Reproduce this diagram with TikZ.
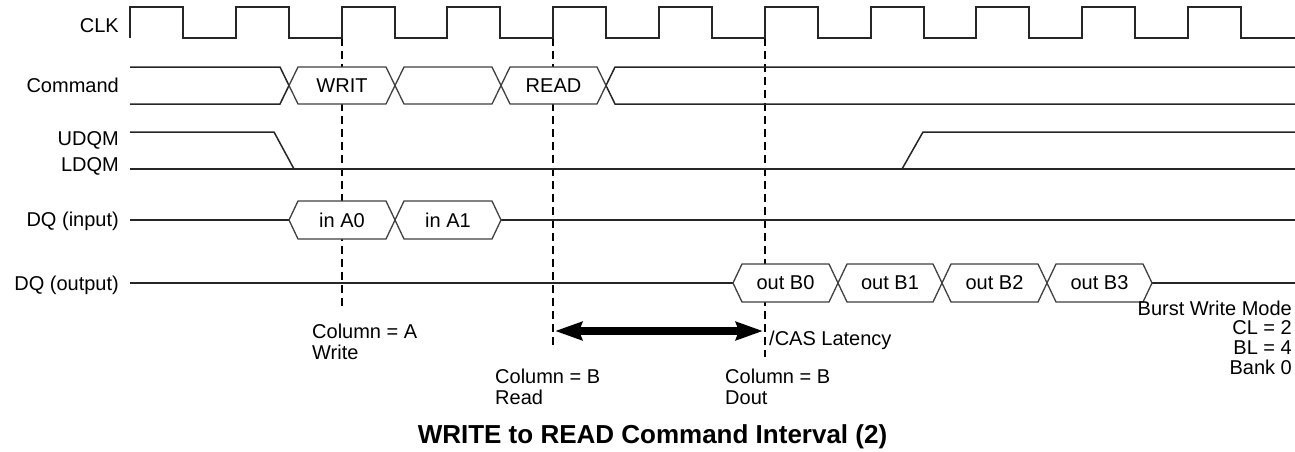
\documentclass[tikz,border=0pt]{standalone}
\usepackage{fontspec}
\setmainfont{Liberation Sans}
\usetikzlibrary{arrows.meta}

\begin{document}
\begin{tikzpicture}[x=1pt, y=-1pt,
    sig/.style={line width=1.5pt, draw=black!85},
    bus/.style={line width=1.3pt, draw=black!75, fill=white},
    guide/.style={line width=1.3pt, dash pattern=on 8pt off 5pt},
    lbl/.style={inner sep=0pt, font=\fontsize{20}{21}\selectfont}]
    \useasboundingbox (0,0) rectangle (1295,451);

    % guide lines
    \draw[guide] (342,38) -- (342,306);
    \draw[guide] (553,38) -- (553,347);
    \draw[guide] (765,38) -- (765,357);

    \node[lbl, anchor=base east] (clk) at (119,32) {CLK};
    \node[lbl, anchor=base east] (cmd) at (119,92) {Command};
    \node[lbl, anchor=base east] (udqm) at (119,145) {UDQM};
    \node[lbl, anchor=base east] (ldqm) at (119,171) {LDQM};
    \node[lbl, anchor=base east] (dqin) at (119,226) {DQ (input)};
    \node[lbl, anchor=base east] (dqout) at (119,290) {DQ (output)};

    % clock
    \draw[sig] (130,38) -- (130,7) -- (183,7) -- (183,38) -- (236,38) -- (236,7)
        -- (289,7) -- (289,38) -- (342,38) -- (342,7) -- (395,7) -- (395,38)
        -- (447,38) -- (447,7) -- (500,7) -- (500,38) -- (553,38) -- (553,7)
        -- (606,7) -- (606,38) -- (659,38) -- (659,7) -- (712,7) -- (712,38)
        -- (765,38) -- (765,7) -- (818,7) -- (818,38) -- (871,38) -- (871,7)
        -- (924,7) -- (924,38) -- (976,38) -- (976,7) -- (1029,7) -- (1029,38)
        -- (1082,38) -- (1082,7) -- (1135,7) -- (1135,38) -- (1188,38) -- (1188,7)
        -- (1241,7) -- (1241,38) -- (1295,38);

    % command
    \draw[sig] (130,67) -- (280,67) -- (289,85.5) -- (280,104) -- (130,104);
    \draw[sig] (1295,67) -- (615,67) -- (606,85.5) -- (615,104) -- (1295,104);
    \draw[bus] (289,85.5) -- (298,67) -- (386,67) -- (395,85.5) -- (386,104) -- (298,104) -- cycle;
    \draw[bus] (395,85.5) -- (404,67) -- (492,67) -- (501,85.5) -- (492,104) -- (404,104) -- cycle;
    \draw[bus] (501,85.5) -- (510,67) -- (597,67) -- (606,85.5) -- (597,104) -- (510,104) -- cycle;
    \node[lbl] (writ) at (342,85.5) {WRIT};
    \node[lbl] (read) at (553.5,85.5) {READ};

    % UDQM / LDQM
    \draw[sig] (130,132) -- (274,132) -- (294,169);
    \draw[sig] (130,169) -- (1295,169);
    \draw[sig] (902,169) -- (923,132) -- (1295,132);

    % DQ input
    \draw[sig] (130,220) -- (289,220);
    \draw[sig] (501,220) -- (1295,220);
    \draw[bus] (289,220) -- (298,201) -- (386,201) -- (395,220) -- (386,239) -- (298,239) -- cycle;
    \draw[bus] (395,220) -- (404,201) -- (492,201) -- (501,220) -- (492,239) -- (404,239) -- cycle;
    \node[lbl] (inA0) at (342,220) {in A0};
    \node[lbl] (inA1) at (448,220) {in A1};

    % DQ output
    \draw[sig] (130,283) -- (733,283);
    \draw[sig] (1152,283) -- (1295,283);
    \draw[bus] (733,283) -- (742,264) -- (829,264) -- (838,283) -- (829,302) -- (742,302) -- cycle;
    \draw[bus] (838,283) -- (847,264) -- (933,264) -- (942,283) -- (933,302) -- (847,302) -- cycle;
    \draw[bus] (942,283) -- (951,264) -- (1038,264) -- (1047,283) -- (1038,302) -- (951,302) -- cycle;
    \draw[bus] (1047,283) -- (1056,264) -- (1143,264) -- (1152,283) -- (1143,302) -- (1056,302) -- cycle;
    \node[lbl] (outB0) at (785.5,283) {out B0};
    \node[lbl] (outB1) at (890,283) {out B1};
    \node[lbl] (outB2) at (994.5,283) {out B2};
    \node[lbl] (outB3) at (1099.5,283) {out B3};

    % CAS latency
    \coordinate (latL) at (555,331);
    \coordinate (latR) at (763,331);
    \draw[{Stealth[length=27pt,width=18pt,inset=3pt]}-{Stealth[length=27pt,width=18pt,inset=3pt]}, line width=8pt] (latL) -- (latR);
    \node[lbl, anchor=base west] (cas) at (769,345) {/CAS Latency};

    \node[lbl, anchor=north west, align=left] (colA) at (312,323.5) {Column = A\\Write};
    \node[lbl, anchor=north west, align=left] (colB) at (495,368.5) {Column = B\\Read};
    \node[lbl, anchor=north west, align=left] (colBout) at (725,368.5) {Column = B\\Dout};
    \node[lbl, anchor=north east, align=right, font=\fontsize{20}{19.7}\selectfont] (mode) at (1292,300.5)
        {Burst Write Mode\\CL = 2\\BL = 4\\Bank 0};

    \node[inner sep=0pt, anchor=base, font=\fontsize{26}{28}\selectfont\bfseries] (title) at (652.5,443)
        {WRITE to READ Command Interval (2)};
\end{tikzpicture}
\end{document}
